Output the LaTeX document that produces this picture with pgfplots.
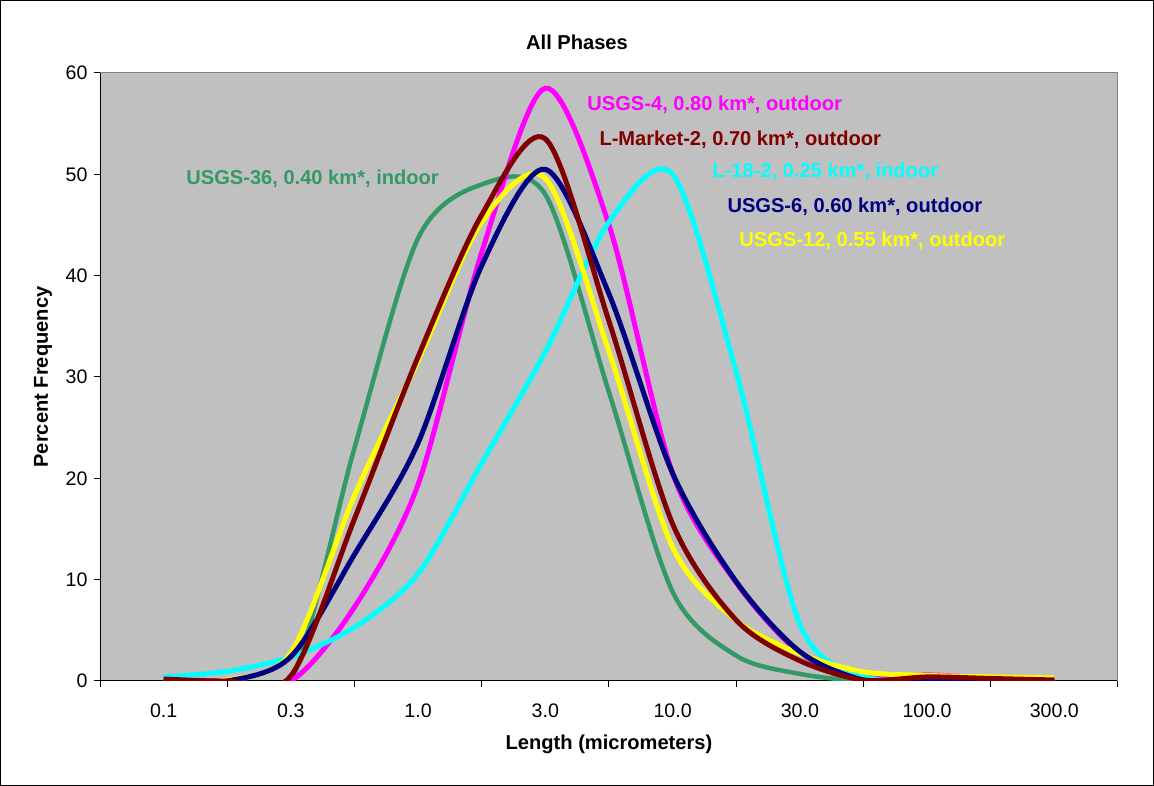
\documentclass[border=0pt]{standalone}
\usepackage{fontspec}
\setmainfont{Liberation Sans}
\usepackage{pgfplots}
\pgfplotsset{compat=1.18}
\definecolor{cgreen}{HTML}{339966}
\definecolor{cbrown}{HTML}{800000}
\definecolor{cnavy}{HTML}{000080}
\definecolor{cmag}{HTML}{FF00FF}
\definecolor{ccyan}{HTML}{00FFFF}
\definecolor{cyel}{HTML}{FFFF00}
\definecolor{bgc}{HTML}{C0C0C0}
\definecolor{framec}{HTML}{808080}
\newcommand{\lf}{\fontsize{20.1}{24}\selectfont\bfseries}
\begin{document}
\begin{tikzpicture}
\draw[black, line width=1pt] (0.5pt,0.5pt) rectangle (1153.5pt,785.5pt);
\node[font=\lf] at (577pt,744pt) {All Phases};
\node[font=\lf] at (609pt,42pt) {Length (micrometers)};
\node[font=\lf, rotate=90] at (43pt,409pt) {Percent Frequency};
\begin{axis}[
  at={(100pt,105pt)}, anchor=south west,
  scale only axis, width=1018pt, height=608pt,
  xmin=-0.5, xmax=7.5, ymin=0, ymax=60,
  axis background/.style={fill=bgc},
  axis x line*=bottom, axis y line*=left,
  axis line style={black, line width=1pt},
  xtick={-0.5,0.5,1.5,2.5,3.5,4.5,5.5,6.5,7.5},
  x tick label as interval,
  xticklabels={0.1,0.3,1.0,3.0,10.0,30.0,100.0,300.0},
  ytick={0,10,20,30,40,50,60},
  tick align=outside, major tick length=6pt,
  tick style={black, line width=1pt},
  ticklabel style={font=\fontsize{19.6}{23}\selectfont},
  /pgf/number format/assume math mode=true,
  xticklabel style={yshift=-13pt},
  yticklabel style={xshift=-3pt},
  smooth, tension=0.5,
  every axis plot/.append style={line width=5pt},
]
% USGS-36 (green)
\addplot[cgreen, line width=4.5pt] coordinates {
(0,0) (0.5,0) (1,0) (1.5,23.0) (2,43.7) (2.5,49.0) (3,48.0) (3.5,28.5) (4,8.8) (4.5,2.5) (5,0.7) (5.5,0) (6,0) (6.5,0) (7,0)};
% USGS-4 (magenta)
\addplot[cmag] coordinates {
(0,0) (0.5,0) (1,0) (1.5,7.3) (2,19.4) (2.5,42.3) (3,58.5) (3.5,45.0) (4,20.5) (4.5,9.7) (5,2.8) (5.5,0.4) (6,0.6) (6.5,0.3) (7,0.1)};
% L-18-2 (cyan)
\addplot[ccyan] coordinates {
(0,0.4) (0.5,0.95) (1,2.4) (1.5,5.3) (2,10.6) (2.5,21.5) (3,32.5) (3.5,45.3) (4,50.0) (4.5,30.5) (5,5.6) (5.5,0.5) (6,0.1) (6.5,0.1) (7,0.1)};
% USGS-12 (yellow)
\addplot[cyel] coordinates {
(0,0.05) (0.5,0.1) (1,2.8) (1.5,18.3) (2,31.6) (2.5,45.3) (3,49.6) (3.5,32.5) (4,13.2) (4.5,6.0) (5,2.7) (5.5,0.9) (6,0.55) (6.5,0.4) (7,0.3)};
% USGS-6 (navy)
\addplot[cnavy] coordinates {
(0,0) (0.5,0) (1,2.4) (1.5,12.5) (2,23.5) (2.5,41.0) (3,50.5) (3.5,38.2) (4,20.5) (4.5,9.8) (5,2.9) (5.5,0.1) (6,0) (6.5,0) (7,0)};
% L-Market-2 (brown)
\addplot[cbrown] coordinates {
(0,0.2) (0.5,0) (1,0.5) (1.5,16.0) (2,32.0) (2.5,46.0) (3,53.5) (3.5,35.5) (4,15.5) (4.5,6.0) (5,2.0) (5.5,0.1) (6,0.4) (6.5,0.25) (7,0.1)};
\draw[framec, line width=1pt] (rel axis cs:0,1) -- (rel axis cs:1,1) -- (rel axis cs:1,0);
\node[anchor=base west, inner sep=0pt, text=cgreen, font=\lf] at (axis cs:0.177,48.95) {USGS-36, 0.40 km*, indoor};
\node[anchor=base west, inner sep=0pt, text=cmag, font=\lf] at (axis cs:3.329,56.25) {USGS-4, 0.80 km*, outdoor};
\node[anchor=base west, inner sep=0pt, text=cbrown, font=\lf] at (axis cs:3.424,52.85) {L-Market-2, 0.70 km*, outdoor};
\node[anchor=base west, inner sep=0pt, text=ccyan, font=\lf] at (axis cs:4.312,49.65) {L-18-2, 0.25 km*, indoor};
\node[anchor=base west, inner sep=0pt, text=cnavy, font=\lf] at (axis cs:4.430,46.2) {USGS-6, 0.60 km*, outdoor};
\node[anchor=base west, inner sep=0pt, text=cyel, font=\lf] at (axis cs:4.524,42.9) {USGS-12, 0.55 km*, outdoor};
\end{axis}
\end{tikzpicture}
\end{document}
